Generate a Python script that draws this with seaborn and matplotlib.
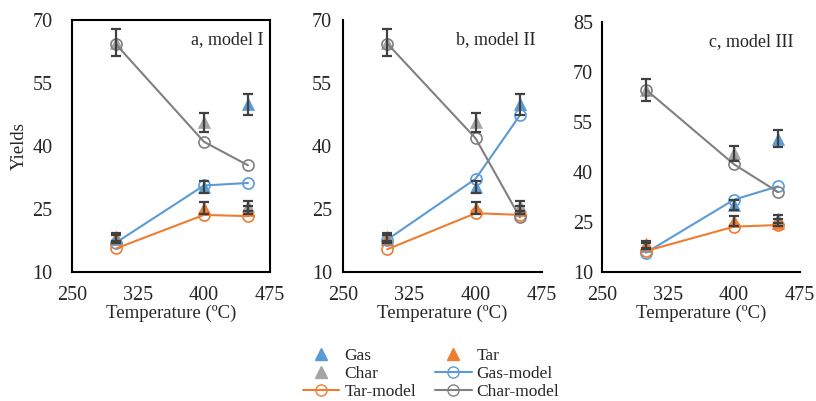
import matplotlib
matplotlib.use("Agg")
import matplotlib.pyplot as plt
from matplotlib.lines import Line2D
import seaborn as sns

sns.set_style("white")
plt.rcParams['font.family'] = ['Liberation Serif', 'DejaVu Serif']

temps = [300, 400, 450]

# experimental yields (same in all panels)
gas = [17.8, 30.2, 50.0]
tar = [18.3, 25.2, 24.8]
char = [64.6, 45.6, 25.8]
gas_err = [1.0, 1.5, 2.5]
tar_err = [1.0, 1.5, 1.0]
char_err = [3.2, 2.3, 1.2]

# model predictions per panel
gas_model = {"a": [17.0, 30.6, 31.2], "b": [17.7, 32.2, 47.3], "c": [15.8, 31.7, 35.7]}
tar_model = {"a": [15.6, 23.6, 23.3], "b": [15.4, 24.0, 23.6], "c": [16.3, 23.6, 24.1]}
char_model = {"a": [64.2, 41.0, 35.4], "b": [64.4, 41.8, 23.0], "c": [64.7, 42.3, 34.0]}

titles = {"a": "a, model I", "b": "b, model II", "c": "c, model III"}
xticks = [250, 325, 400, 475]
yticks = {"a": [10, 25, 40, 55, 70], "b": [10, 25, 40, 55, 70], "c": [10, 25, 40, 55, 70, 85]}

c_gas = "#5B9BD5"
c_tar = "#ED7D31"
c_char = "#A5A5A5"
c_charm = "#808080"
c_err = "#404040"

fig = plt.figure(figsize=(8.16, 4.01), dpi=100)
W, H = 816, 401
boxes = {"a": (72, 270, 20, 272), "b": (343, 542, 20, 272), "c": (602, 800, 22, 272)}
ypads = {"a": 14, "b": 8, "c": 6.5}

for key in ["a", "b", "c"]:
    l, r, t, b = boxes[key]
    ax = fig.add_axes([l / W, 1 - b / H, (r - l) / W, (b - t) / H])

    for vals, errs, col in [(gas, gas_err, c_gas), (tar, tar_err, c_tar), (char, char_err, c_char)]:
        sns.scatterplot(x=temps, y=vals, ax=ax, marker="^", color=col, s=75,
                        edgecolor=col, linewidth=0.5, zorder=3)
        ax.errorbar(temps, vals, yerr=errs, fmt="none", ecolor=c_err,
                    elinewidth=1.6, capsize=3.5, capthick=1.6, zorder=5)

    for vals, col in [(gas_model[key], c_gas), (tar_model[key], c_tar), (char_model[key], c_charm)]:
        sns.lineplot(x=temps, y=vals, ax=ax, color=col, marker="o", markersize=8,
                     markerfacecolor="none", markeredgecolor=col, markeredgewidth=1.2,
                     linewidth=1.5, zorder=4)

    ax.set_xlim(250, 475)
    ax.set_xticks(xticks)
    ax.set_ylim(yticks[key][0], yticks[key][-1])
    ax.set_yticks(yticks[key])
    ax.tick_params(axis="both", length=0, labelsize=14.5)
    ax.tick_params(axis="x", pad=10)
    ax.tick_params(axis="y", pad=ypads[key])
    ax.set_xlabel("Temperature (ºC)", fontsize=13.5, labelpad=0)
    if key == "a":
        ax.set_ylabel("Yields", fontsize=13.5, labelpad=3)
        for s in ax.spines.values():
            s.set_color("black")
            s.set_linewidth(1.5)
    else:
        for s in ["top", "right"]:
            ax.spines[s].set_visible(False)
        for s in ["left", "bottom"]:
            ax.spines[s].set_color("black")
            ax.spines[s].set_linewidth(1.5)
    ax.text(0.965, 0.955, titles[key], transform=ax.transAxes, ha="right", va="top", fontsize=13)

handles = [
    Line2D([], [], linestyle="none", marker="^", color=c_gas, markersize=9),
    Line2D([], [], linestyle="none", marker="^", color=c_char, markersize=9),
    Line2D([], [], color=c_tar, marker="o", markerfacecolor="none", markersize=8, linewidth=1.5),
    Line2D([], [], linestyle="none", marker="^", color=c_tar, markersize=9),
    Line2D([], [], color=c_gas, marker="o", markerfacecolor="none", markersize=8, linewidth=1.5),
    Line2D([], [], color=c_charm, marker="o", markerfacecolor="none", markersize=8, linewidth=1.5),
]
labels = ["Gas", "Char", "Tar-model", "Tar", "Gas-model", "Char-model"]
fig.legend(handles, labels, ncol=2, loc="center", bbox_to_anchor=(431 / W, 1 - 374 / H),
           frameon=False, fontsize=12.5, handlelength=2.1, handletextpad=0.3,
           columnspacing=1.1, labelspacing=0.1, borderpad=0)

fig.savefig("out.png", dpi=100)
